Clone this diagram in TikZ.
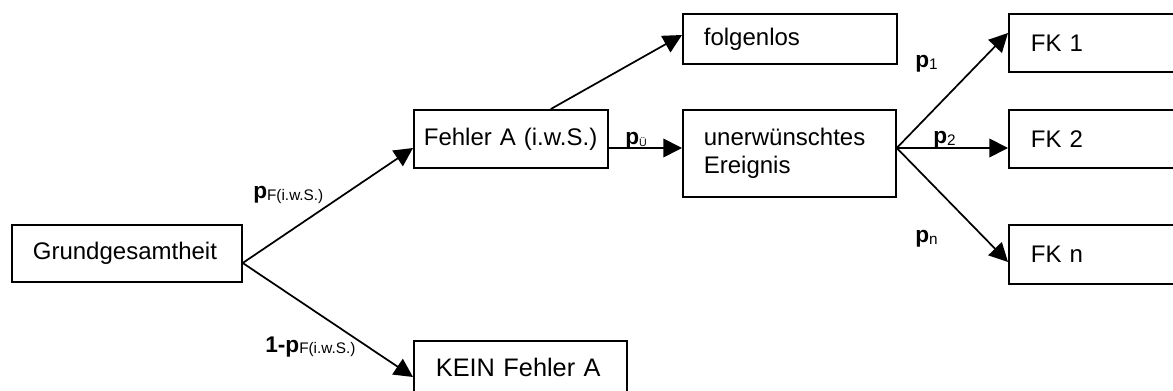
\documentclass[tikz,border=0pt]{standalone}
\usepackage{fontspec}
\setmainfont{Liberation Sans}
\usetikzlibrary{arrows.meta}

% probability labels: bold "p" with a small subscript
\newcommand\pmain[1]{{\fontsize{17}{19}\selectfont\bfseries #1}}
\newcommand\psubs[2][11.5]{\raisebox{-1pt}{\fontsize{#1}{13}\selectfont #2}}

\begin{document}
\begin{tikzpicture}[x=0.75pt,y=-0.75pt,
  box/.style n args={4}{draw, line width=1.3pt, rectangle, anchor=north west,
    align=left, inner ysep=0pt, font=\fontsize{18}{20.5}\selectfont,
    minimum width=#1, minimum height=#2, inner xsep=#3, text width=#4},
  conn/.style={line width=1.3pt, -{Triangle[length=14pt,width=14pt]}},
  lbl/.style={anchor=base west, inner sep=0pt}]
\clip (0,0) rectangle (1173,391);

% boxes
\node[box={172.5pt}{42.75pt}{15.75pt}{141pt}] (grund) at (11,224) {Grundgesamtheit};
\node[box={145.5pt}{43.5pt}{7.5pt}{130.5pt}] (fa) at (413,109) {Fehler A (i.w.S.)};
\node[box={159.75pt}{39.75pt}{16.5pt}{126.75pt}, font=\fontsize{19}{22}\selectfont] (kein) at (413,340) {\mbox{KEIN Fehler A}};
\node[box={160.5pt}{37.5pt}{15.75pt}{129pt}] (folg) at (682,13) {folgenlos};
\node[box={159.75pt}{65.25pt}{15.75pt}{128.25pt}] (ue) at (682,109) {unerwünschtes\\Ereignis};
\node[box={132.75pt}{43.5pt}{16.5pt}{99.75pt}] (fk1) at (1008,13) {FK 1};
\node[box={132.75pt}{43.5pt}{16.5pt}{99.75pt}] (fk2) at (1008,109) {FK 2};
\node[box={132.75pt}{44.25pt}{16.5pt}{99.75pt}] (fkn) at (1008,224) {FK n};

% common level of the horizontal connectors
\coordinate (lv) at (0,148);
\coordinate (gs) at (0,263);

% connectors
\draw[conn] (grund.east |- gs) -- (fa.west |- lv);
\draw[conn] (grund.east |- gs) -- (kein.west |- 0,377);
\draw[conn] ([xshift=30pt]fa.north) -- (folg.west |- 0,35);
\draw[conn] (fa.east |- lv) -- (ue.west |- lv);
\draw[conn] (ue.east |- lv) -- (fk1.west |- 0,33);
\draw[conn] (ue.east |- lv) -- (fk2.west |- lv);
\draw[conn] (ue.east |- lv) -- (fkn.west |- 0,262);

% probabilities
\node[lbl] (lpf) at (253,199) {\pmain{p}\psubs{F(i.w.S.)}};
\node[lbl] (lnf) at (265,352) {\pmain{1-p}\psubs{F(i.w.S.)}};
\node[lbl] (lpu) at (625,145) {\pmain{p}\psubs[8]{Ü}};
\node[lbl] (lp1) at (915,68) {\pmain{p}\psubs{1}};
\node[lbl] (lp2) at (933,144) {\pmain{p}\psubs{2}};
\node[lbl] (lpn) at (915,243) {\pmain{p}\psubs{n}};
\end{tikzpicture}
\end{document}
